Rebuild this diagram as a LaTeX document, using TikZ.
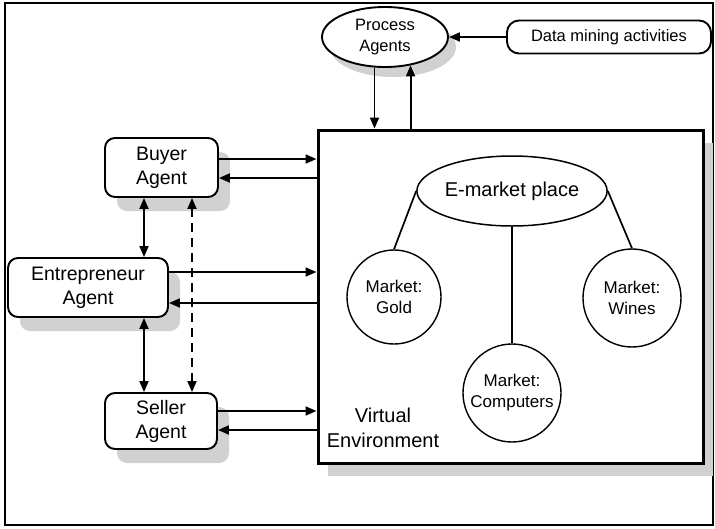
\documentclass[tikz,border=0pt]{standalone}
\usepackage{fontspec}
\setmainfont{Liberation Sans}
\usetikzlibrary{arrows.meta,shapes.geometric,shadows,calc}
\begin{document}
\begin{tikzpicture}[x=1pt,y=-1pt,
  shadowA/.style={drop shadow={shadow xshift=12pt, shadow yshift=-14pt, fill=black!18, opacity=1}},
  agent/.style={draw, line width=1.9pt, rounded corners=10pt, align=center, fill=white,
    font=\fontsize{19.5}{24}\selectfont, inner sep=0pt, shadowA},
  envbox/.style={draw, line width=3pt, inner sep=0pt, fill=white,
    drop shadow={shadow xshift=10pt, shadow yshift=-13pt, fill=black!18, opacity=1}},
  procell/.style={draw, ellipse, line width=1.9pt, fill=white, align=center, inner sep=0pt,
    font=\fontsize{16.5}{21}\selectfont,
    drop shadow={shadow xshift=8pt, shadow yshift=-10pt, fill=black!18, opacity=1}},
  dmbox/.style={draw, line width=1.9pt, rounded corners=12pt, inner sep=0pt,
    font=\fontsize{16.5}{20}\selectfont},
  empell/.style={draw, ellipse, line width=1.5pt, inner sep=0pt, font=\fontsize{20}{24}\selectfont},
  mk/.style={draw, circle, line width=1.4pt, inner sep=0pt, align=center,
    font=\fontsize{17}{21}\selectfont},
  arr/.style={line width=1.9pt, -{Triangle[length=11pt,width=9pt]}},
  darr/.style={line width=1.9pt, {Triangle[length=11pt,width=9pt]}-{Triangle[length=11pt,width=9pt]}},
  link/.style={line width=1.7pt}
]
\useasboundingbox (0,0) rectangle (715,528);
\draw[line width=2pt] (5,3) rectangle (713,525);

\node[envbox, minimum width=385pt, minimum height=333pt] (env) at (510.5,296.5) {};
\node[procell, minimum width=126pt, minimum height=60pt] (proc) at (385,37) {Process\\Agents};
\node[dmbox, minimum width=204pt, minimum height=33pt] (dm) at (609,37) {Data mining activities};

\node[agent, minimum width=113pt, minimum height=59pt] (buyer) at (161.5,167.5) {Buyer\\Agent};
\node[agent, minimum width=160pt, minimum height=59pt] (entre) at (88,287.5) {Entrepreneur\\Agent};
\node[agent, minimum width=112pt, minimum height=56pt] (seller) at (161,421) {Seller\\Agent};

\node[empell, minimum width=155pt, minimum height=70pt] (emp) at (512,191) {E-market place};
\node[mk, minimum size=94pt] (gold) at (394,297) {Market:\\Gold};
\node[mk, minimum size=98pt] (comp) at (512,393) {Market:\\Computers};
\node[mk, minimum size=98pt] (wines) at (632,298) {Market:\\Wines};
\node[font=\fontsize{20}{25}\selectfont, align=center, inner sep=0pt] (venv) at (383,428) {Virtual\\Environment};

% top arrows
\draw[arr] (dm.west) -- (proc.east);
\draw[arr] (proc.-109) -- (proc.-109 |- env.north);
\draw[arr] (proc.-48 |- env.north) -- (proc.-48);

% agent <-> environment
\coordinate (b1) at ([yshift=8.5pt]buyer.east);
\coordinate (b2) at ([yshift=-10.5pt]buyer.east);
\draw[arr] (b1) -- (b1 -| env.west);
\draw[arr] (b2 -| env.west) -- (b2);
\coordinate (e1) at ([yshift=15.5pt]entre.east);
\coordinate (e2) at ([yshift=-15.5pt]entre.east);
\draw[arr] (e1) -- (e1 -| env.west);
\draw[arr] (e2 -| env.west) -- (e2);
\coordinate (s1) at ([yshift=10pt]seller.east);
\coordinate (s2) at ([yshift=-9pt]seller.east);
\draw[arr] (s1) -- (s1 -| env.west);
\draw[arr] (s2 -| env.west) -- (s2);

% vertical arrows
\coordinate (v1) at ([xshift=-17.5pt]buyer.south);
\coordinate (v2) at ([xshift=30.5pt]buyer.south);
\draw[darr] (v1) -- (v1 |- entre.north);
\draw[darr] (v1 |- entre.south) -- (v1 |- seller.north);
\draw[darr, dash pattern=on 9pt off 6pt] (v2) -- (v2 |- seller.north);

% market links
\draw[link] (emp.west) -- (gold.north);
\draw[link] (emp.south) -- (comp.north);
\draw[link] (emp.east) -- (wines.north);
\end{tikzpicture}
\end{document}
